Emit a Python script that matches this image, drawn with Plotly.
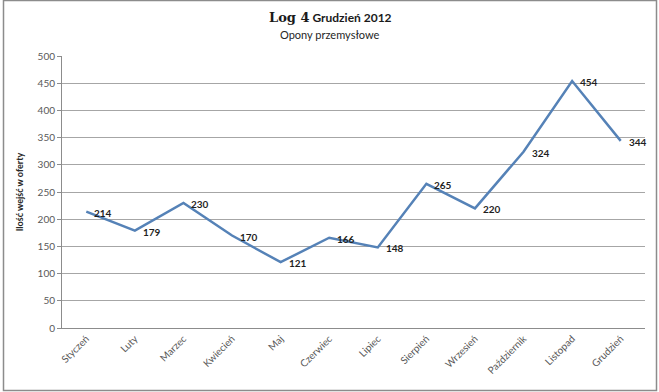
import plotly.graph_objects as go

months = ["Styczeń", "Luty", "Marzec", "Kwiecień", "Maj", "Czerwiec",
          "Lipiec", "Sierpień", "Wrzesień", "Październik", "Listopad", "Grudzień"]
values = [214, 179, 230, 170, 121, 166, 148, 265, 220, 324, 454, 344]
y_ticks = [0, 50, 100, 150, 200, 250, 300, 350, 400, 450, 500]

W, H = 659, 392
ML, MR, MT, MB = 62, 14, 56, 64
PW, PH = W - ML - MR, H - MT - MB

def px_x(p):
    return (p - ML) / PW

def px_y(p):
    return (H - MB - p) / PH

FONT = "Lato, 'Open Sans', sans-serif"

fig = go.Figure()
fig.add_trace(go.Scatter(
    x=months, y=values, mode="lines",
    line=dict(color="#5582b7", width=2.5),
    hoverinfo="x+y", showlegend=False,
))

for m, v in zip(months, values):
    fig.add_annotation(
        x=m, y=v, text=f"<b>{v}</b>", showarrow=False,
        xanchor="left", yanchor="middle", xshift=6, yshift=-1,
        font=dict(family=FONT, size=10, color="#1f1f1f"),
    )

# titles
fig.add_annotation(
    xref="paper", yref="paper", x=px_x(330), y=px_y(17),
    text="<b><span style='font-family:DejaVu Serif;font-size:13px'>Log 4</span> Grudzień 2012</b>",
    showarrow=False, xanchor="center", yanchor="middle",
    font=dict(family=FONT, size=12, color="#1a1a1a"),
)
fig.add_annotation(
    xref="paper", yref="paper", x=px_x(330), y=px_y(34),
    text="Opony przemysłowe", showarrow=False, xanchor="center", yanchor="middle",
    font=dict(family=FONT, size=11, color="#262626"),
)

# outer frame
fig.add_shape(type="rect", xref="paper", yref="paper",
              x0=px_x(3.5), x1=px_x(656.5), y0=px_y(390.5), y1=px_y(0.5),
              line=dict(color="#8c8c8c", width=1.5), layer="below")

fig.update_layout(
    width=W, height=H,
    margin=dict(l=ML, r=MR, t=MT, b=MB),
    paper_bgcolor="white", plot_bgcolor="white",
    font=dict(family=FONT, size=10, color="#595959"),
    xaxis=dict(
        type="category", range=[-0.5, 11.5], tickangle=-45,
        showgrid=False, showline=True, linecolor="#8c8c8c", linewidth=1,
        ticks="", tickfont=dict(family=FONT, size=10, color="#595959"),
        fixedrange=True,
    ),
    yaxis=dict(
        range=[0, 500], tickvals=y_ticks, ticktext=[str(t) for t in y_ticks],
        showgrid=True, gridcolor="#a6a6a6", gridwidth=1,
        showline=True, linecolor="#8c8c8c", linewidth=1,
        ticks="outside", ticklen=4, tickcolor="#8c8c8c",
        tickfont=dict(family=FONT, size=10, color="#595959"),
        title=dict(text="<b>Ilość wejść w oferty</b>", standoff=12,
                   font=dict(family=FONT, size=9, color="#262626")),
        zeroline=False, fixedrange=True,
    ),
)

fig.write_html("out.html")
